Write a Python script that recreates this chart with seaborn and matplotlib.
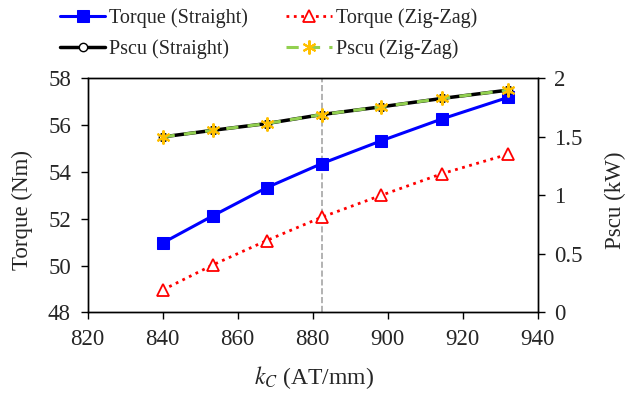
import matplotlib
matplotlib.use("Agg")
import matplotlib.pyplot as plt
import seaborn as sns

# data
kc = [840, 853.5, 867.7, 882.4, 898.2, 914.5, 932.1]
torque_straight = [50.97, 52.14, 53.33, 54.36, 55.33, 56.27, 57.19]
torque_zigzag = [48.96, 50.04, 51.07, 52.07, 53.0, 53.93, 54.76]
pscu_straight = [1.50, 1.557, 1.614, 1.691, 1.757, 1.829, 1.90]
pscu_zigzag = [1.50, 1.557, 1.614, 1.691, 1.757, 1.829, 1.90]
kc_marker = 882.4

sns.set_style("ticks")
plt.rcParams["font.family"] = ["Liberation Serif", "DejaVu Serif"]
plt.rcParams["mathtext.fontset"] = "stix"

fig, ax = plt.subplots(figsize=(6.26, 3.96), dpi=100)
fig.subplots_adjust(left=0.1400, right=0.859, top=0.802, bottom=0.211)
ax2 = ax.twinx()

ax.axvline(kc_marker, color="#A6A6A6", linestyle="--", linewidth=1.2, zorder=0)

sns.lineplot(x=kc, y=torque_straight, ax=ax, color="#0000FF", linewidth=2.2,
             marker="s", markersize=9, markeredgecolor="#0000FF",
             label="Torque (Straight)", legend=False)
sns.lineplot(x=kc, y=torque_zigzag, ax=ax, color="#FF0000", linewidth=2,
             linestyle=":", marker="^", markersize=9, markerfacecolor="white",
             markeredgecolor="#FF0000", markeredgewidth=1.3,
             label="Torque (Zig-Zag)", legend=False)
sns.lineplot(x=kc, y=pscu_straight, ax=ax2, color="black", linewidth=2.5,
             marker="o", markersize=6, markerfacecolor="white",
             markeredgecolor="black", markeredgewidth=1,
             label="Pscu (Straight)", legend=False)
sns.lineplot(x=kc, y=pscu_zigzag, ax=ax2, color="#92D050", linewidth=2.2,
             linestyle=(0, (4, 3)), marker=(6, 2, 0), markersize=10,
             markeredgecolor="#FFC000", markeredgewidth=1.5,
             label="Pscu (Zig-Zag)", legend=False)

ax.set_xlim(820, 940)
ax.set_ylim(48, 58)
ax2.set_ylim(0, 2)
ax.set_xticks(range(820, 941, 20))
ax.set_yticks(range(48, 59, 2))
ax2.set_yticks([0, 0.5, 1, 1.5, 2])
ax2.set_yticklabels(["0", "0.5", "1", "1.5", "2"])

for a in (ax, ax2):
    a.tick_params(labelsize=16.5, direction="out", length=5, width=1,
                  color="black", pad=7)
    for s in a.spines.values():
        s.set_visible(True)
        s.set_color("black")
        s.set_linewidth(1)

ax.set_xlabel(r"$k_C$ (AT/mm)", fontsize=17)
ax.set_ylabel("Torque (Nm)", fontsize=16.5)
ax2.set_ylabel("Pscu (kW)", fontsize=16.5)
# axis titles sit where the reference puts them (not centred on the axes)
ax.xaxis.set_label_coords(0.503, -0.22)
ax.yaxis.set_label_coords(-0.122, 0.436)
ax2.yaxis.set_label_coords(1.149, 0.48)

h1, l1 = ax.get_legend_handles_labels()
h2, l2 = ax2.get_legend_handles_labels()
handles = [h1[0], h2[0], h1[1], h2[1]]
labels = [l1[0], l2[0], l1[1], l2[1]]
fig.legend(handles, labels, ncol=2, loc="upper left",
           bbox_to_anchor=(60 / 626, 0.98), frameon=False, fontsize=14.5,
           borderpad=0, borderaxespad=0, handlelength=2.25,
           columnspacing=1.9, labelspacing=0.6, handletextpad=0.2)

fig.savefig("out.png", dpi=100)
